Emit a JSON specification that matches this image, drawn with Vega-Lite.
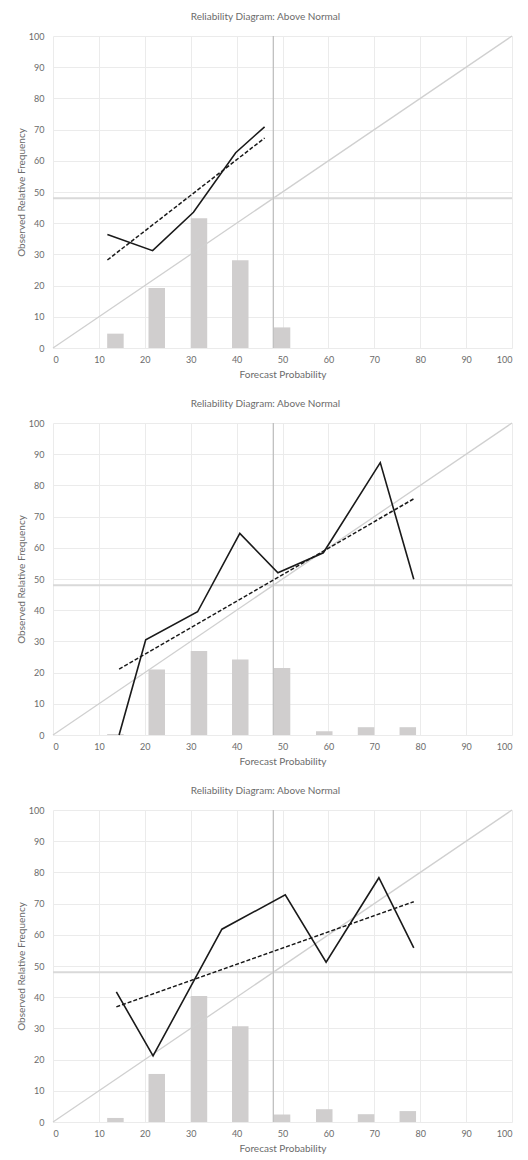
{
  "$schema": "https://vega.github.io/schema/vega-lite/v6.json",
  "background": "white",
  "padding": {"left": 16, "top": 12, "right": 4, "bottom": 2},
  "datasets": {
    "bars": [
      {"panel": 1, "bin": 13.6, "pct": 4.6},
      {"panel": 1, "bin": 22.6, "pct": 19.2},
      {"panel": 1, "bin": 31.8, "pct": 41.6},
      {"panel": 1, "bin": 40.8, "pct": 28.1},
      {"panel": 1, "bin": 49.9, "pct": 6.6},
      {"panel": 2, "bin": 13.6, "pct": 0.3},
      {"panel": 2, "bin": 22.6, "pct": 21.0},
      {"panel": 2, "bin": 31.8, "pct": 26.9},
      {"panel": 2, "bin": 40.8, "pct": 24.2},
      {"panel": 2, "bin": 49.9, "pct": 21.5},
      {"panel": 2, "bin": 59.1, "pct": 1.2},
      {"panel": 2, "bin": 68.2, "pct": 2.5},
      {"panel": 2, "bin": 77.3, "pct": 2.5},
      {"panel": 3, "bin": 13.6, "pct": 1.3},
      {"panel": 3, "bin": 22.6, "pct": 15.4},
      {"panel": 3, "bin": 31.8, "pct": 40.4},
      {"panel": 3, "bin": 40.8, "pct": 30.7},
      {"panel": 3, "bin": 49.9, "pct": 2.4},
      {"panel": 3, "bin": 59.1, "pct": 4.1},
      {"panel": 3, "bin": 68.2, "pct": 2.5},
      {"panel": 3, "bin": 77.3, "pct": 3.5}
    ],
    "obs": [
      {"panel": 1, "prob": 11.85, "freq": 36.4},
      {"panel": 1, "prob": 21.7, "freq": 31.2},
      {"panel": 1, "prob": 30.6, "freq": 43.5},
      {"panel": 1, "prob": 39.8, "freq": 62.6},
      {"panel": 1, "prob": 46.1, "freq": 70.9},
      {"panel": 2, "prob": 14.4, "freq": 0},
      {"panel": 2, "prob": 20.2, "freq": 30.5},
      {"panel": 2, "prob": 31.5, "freq": 39.5},
      {"panel": 2, "prob": 40.7, "freq": 64.6},
      {"panel": 2, "prob": 49.0, "freq": 52.0},
      {"panel": 2, "prob": 58.9, "freq": 58.4},
      {"panel": 2, "prob": 71.3, "freq": 87.3},
      {"panel": 2, "prob": 78.6, "freq": 49.9},
      {"panel": 3, "prob": 13.8, "freq": 41.7},
      {"panel": 3, "prob": 21.8, "freq": 21.2},
      {"panel": 3, "prob": 36.8, "freq": 61.8},
      {"panel": 3, "prob": 50.6, "freq": 72.8},
      {"panel": 3, "prob": 59.5, "freq": 51.2},
      {"panel": 3, "prob": 71.0, "freq": 78.3},
      {"panel": 3, "prob": 78.6, "freq": 55.8}
    ],
    "trend": [
      {"panel": 1, "prob": 11.85, "freq": 28.2},
      {"panel": 1, "prob": 46.1, "freq": 67.3},
      {"panel": 2, "prob": 14.4, "freq": 21.1},
      {"panel": 2, "prob": 78.6, "freq": 75.7},
      {"panel": 3, "prob": 13.8, "freq": 36.9},
      {"panel": 3, "prob": 78.6, "freq": 70.6}
    ],
    "diag": [
      {"prob": 0, "freq": 0},
      {"prob": 100, "freq": 100}
    ],
    "clim": [
      {"value": 48}
    ]
  },
  "config": {
    "font": "Lato",
    "view": {"stroke": null},
    "axis": {
      "grid": true,
      "gridColor": "#ebebeb",
      "gridWidth": 1,
      "domain": false,
      "ticks": false,
      "labelColor": "#6b6b6b",
      "labelFontSize": 9,
      "labelFont": "Lato",
      "titleColor": "#6b6b6b",
      "titleFontSize": 10,
      "titleFontWeight": "normal",
      "titleFont": "Lato"
    },
    "axisX": {"labelPadding": 7, "titlePadding": 5},
    "axisY": {"labelPadding": 9, "titlePadding": 2, "labelOverlap": false, "tickCount": 11},
    "title": {
      "fontSize": 10,
      "fontWeight": "normal",
      "color": "#6b6b6b",
      "font": "Lato",
      "anchor": "middle",
      "frame": "bounds",
      "offset": 10
    }
  },
  "spacing": 75,
  "bounds": "flush",
  "vconcat": [
    {
      "width": 459,
      "height": 312,
      "title": "Reliability Diagram: Above Normal",
      "layer": [
        {
          "data": {"name": "bars"},
          "transform": [{"filter": "datum.panel == 1"}],
          "mark": {"type": "bar", "size": 16.5, "color": "#d0cece"},
          "encoding": {
            "x": {"field": "bin", "type": "quantitative", "scale": {"domain": [0, 100], "nice": false, "padding": 0}, "axis": {"values": [0,10,20,30,40,50,60,70,80,90,100], "labelOverlap": false, "labelBound": false, "title": "Forecast Probability"}},
            "y": {"field": "pct", "type": "quantitative", "scale": {"domain": [0, 100], "nice": false, "padding": 0}, "axis": {"values": [0,10,20,30,40,50,60,70,80,90,100], "tickCount": 11, "labelOverlap": false, "labelBound": false, "labelSeparation": 0, "title": "Observed Relative Frequency"}}
          }
        },
        {
          "data": {"name": "diag"},
          "mark": {"type": "line", "color": "#d0d0d0", "strokeWidth": 1.3},
          "encoding": {"x": {"field": "prob", "type": "quantitative"}, "y": {"field": "freq", "type": "quantitative"}}
        },
        {
          "data": {"name": "clim"},
          "mark": {"type": "rule", "color": "#d9d9d9", "strokeWidth": 2.2},
          "encoding": {"y": {"field": "value", "type": "quantitative"}}
        },
        {
          "data": {"name": "clim"},
          "mark": {"type": "rule", "color": "#bfbfbf", "strokeWidth": 1.3},
          "encoding": {"x": {"field": "value", "type": "quantitative"}}
        },
        {
          "data": {"name": "obs"},
          "transform": [{"filter": "datum.panel == 1"}],
          "mark": {"type": "line", "color": "#1a1a1a", "strokeWidth": 1.6},
          "encoding": {"x": {"field": "prob", "type": "quantitative"}, "y": {"field": "freq", "type": "quantitative"}}
        },
        {
          "data": {"name": "trend"},
          "transform": [{"filter": "datum.panel == 1"}],
          "mark": {"type": "line", "color": "#1a1a1a", "strokeWidth": 1.5, "strokeDash": [4, 2]},
          "encoding": {"x": {"field": "prob", "type": "quantitative"}, "y": {"field": "freq", "type": "quantitative"}}
        }
      ]
    },
    {
      "width": 459,
      "height": 312,
      "title": "Reliability Diagram: Above Normal",
      "layer": [
        {
          "data": {"name": "bars"},
          "transform": [{"filter": "datum.panel == 2"}],
          "mark": {"type": "bar", "size": 16.5, "color": "#d0cece"},
          "encoding": {
            "x": {"field": "bin", "type": "quantitative", "scale": {"domain": [0, 100], "nice": false, "padding": 0}, "axis": {"values": [0,10,20,30,40,50,60,70,80,90,100], "labelOverlap": false, "labelBound": false, "title": "Forecast Probability"}},
            "y": {"field": "pct", "type": "quantitative", "scale": {"domain": [0, 100], "nice": false, "padding": 0}, "axis": {"values": [0,10,20,30,40,50,60,70,80,90,100], "tickCount": 11, "labelOverlap": false, "labelBound": false, "labelSeparation": 0, "title": "Observed Relative Frequency"}}
          }
        },
        {
          "data": {"name": "diag"},
          "mark": {"type": "line", "color": "#d0d0d0", "strokeWidth": 1.3},
          "encoding": {"x": {"field": "prob", "type": "quantitative"}, "y": {"field": "freq", "type": "quantitative"}}
        },
        {
          "data": {"name": "clim"},
          "mark": {"type": "rule", "color": "#d9d9d9", "strokeWidth": 2.2},
          "encoding": {"y": {"field": "value", "type": "quantitative"}}
        },
        {
          "data": {"name": "clim"},
          "mark": {"type": "rule", "color": "#bfbfbf", "strokeWidth": 1.3},
          "encoding": {"x": {"field": "value", "type": "quantitative"}}
        },
        {
          "data": {"name": "obs"},
          "transform": [{"filter": "datum.panel == 2"}],
          "mark": {"type": "line", "color": "#1a1a1a", "strokeWidth": 1.6},
          "encoding": {"x": {"field": "prob", "type": "quantitative"}, "y": {"field": "freq", "type": "quantitative"}}
        },
        {
          "data": {"name": "trend"},
          "transform": [{"filter": "datum.panel == 2"}],
          "mark": {"type": "line", "color": "#1a1a1a", "strokeWidth": 1.5, "strokeDash": [4, 2]},
          "encoding": {"x": {"field": "prob", "type": "quantitative"}, "y": {"field": "freq", "type": "quantitative"}}
        }
      ]
    },
    {
      "width": 459,
      "height": 312,
      "title": "Reliability Diagram: Above Normal",
      "layer": [
        {
          "data": {"name": "bars"},
          "transform": [{"filter": "datum.panel == 3"}],
          "mark": {"type": "bar", "size": 16.5, "color": "#d0cece"},
          "encoding": {
            "x": {"field": "bin", "type": "quantitative", "scale": {"domain": [0, 100], "nice": false, "padding": 0}, "axis": {"values": [0,10,20,30,40,50,60,70,80,90,100], "labelOverlap": false, "labelBound": false, "title": "Forecast Probability"}},
            "y": {"field": "pct", "type": "quantitative", "scale": {"domain": [0, 100], "nice": false, "padding": 0}, "axis": {"values": [0,10,20,30,40,50,60,70,80,90,100], "tickCount": 11, "labelOverlap": false, "labelBound": false, "labelSeparation": 0, "title": "Observed Relative Frequency"}}
          }
        },
        {
          "data": {"name": "diag"},
          "mark": {"type": "line", "color": "#d0d0d0", "strokeWidth": 1.3},
          "encoding": {"x": {"field": "prob", "type": "quantitative"}, "y": {"field": "freq", "type": "quantitative"}}
        },
        {
          "data": {"name": "clim"},
          "mark": {"type": "rule", "color": "#d9d9d9", "strokeWidth": 2.2},
          "encoding": {"y": {"field": "value", "type": "quantitative"}}
        },
        {
          "data": {"name": "clim"},
          "mark": {"type": "rule", "color": "#bfbfbf", "strokeWidth": 1.3},
          "encoding": {"x": {"field": "value", "type": "quantitative"}}
        },
        {
          "data": {"name": "obs"},
          "transform": [{"filter": "datum.panel == 3"}],
          "mark": {"type": "line", "color": "#1a1a1a", "strokeWidth": 1.6},
          "encoding": {"x": {"field": "prob", "type": "quantitative"}, "y": {"field": "freq", "type": "quantitative"}}
        },
        {
          "data": {"name": "trend"},
          "transform": [{"filter": "datum.panel == 3"}],
          "mark": {"type": "line", "color": "#1a1a1a", "strokeWidth": 1.5, "strokeDash": [4, 2]},
          "encoding": {"x": {"field": "prob", "type": "quantitative"}, "y": {"field": "freq", "type": "quantitative"}}
        }
      ]
    }
  ]
}
